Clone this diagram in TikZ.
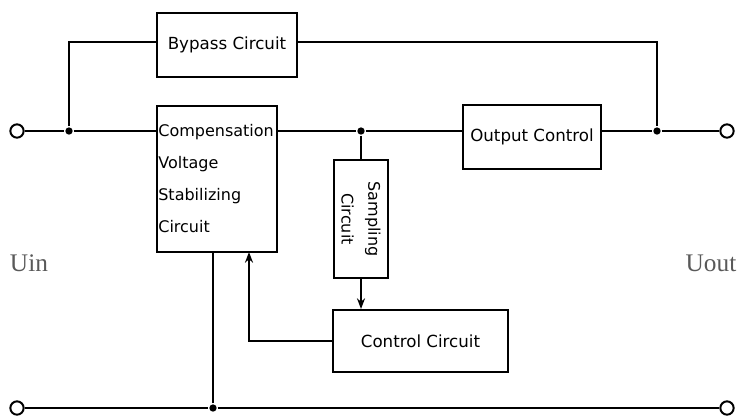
\documentclass[tikz,border=0pt]{standalone}
\usepackage{fontspec}
\setmainfont{DejaVu Sans}
\newfontfamily\labelfont{Liberation Serif}
\usetikzlibrary{arrows.meta}

\begin{document}
\begin{tikzpicture}[
  x=0.75pt, y=-0.75pt,
  line width=1.5pt,
  box/.style={draw, rectangle, inner sep=1pt, font=\fontsize{12.5}{24}\selectfont},
  term/.style={draw, circle, fill=white, minimum size=10pt, inner sep=0pt},
  dot/.style={circle, fill, minimum size=5.5pt, inner sep=0pt},
  feed/.style={-{Stealth[length=8pt, width=6pt]}}
]
\useasboundingbox (0,0) rectangle (740,419);

% blocks
\node[box, minimum width=105pt, minimum height=48pt] (bypass) at (227,45) {Bypass Circuit};
\node[box, minimum width=90pt, minimum height=109.5pt, text width=88pt, align=left,
  font=\fontsize{12}{24}\selectfont] (comp) at (217,179)
  {Compensation\\Voltage\\Stabilizing\\Circuit};
\node[box, rotate=-90, minimum width=88.5pt, minimum height=40.5pt, inner sep=0pt, align=center,
  font=\fontsize{12}{20}\selectfont] (samp) at (361,219) {Sampling\\Circuit};
\node[box, minimum width=103.5pt, minimum height=48pt] (output) at (532,137) {Output Control};
\node[box, minimum width=131pt, minimum height=46.5pt] (control) at (420.5,341) {Control Circuit};

% terminals and junctions
\node[term] (lin) at (17,131) {};
\node[term] (rin) at (727,131) {};
\node[term] (lb) at (17,408) {};
\node[term] (rb) at (727,408) {};
\node[dot] (jl) at (69,131) {};
\node[dot] (js) at (361,131) {};
\node[dot] (jr) at (657,131) {};
\node[dot] (jb) at (213,408) {};
\coordinate (fb) at (249,252);
\coordinate (top) at (0,42);

\node[font=\labelfont\fontsize{19}{19}\selectfont, text=black!65] (uin) at (29,263) {Uin};
\node[font=\labelfont\fontsize{19}{19}\selectfont, text=black!65] (uout) at (711,263) {Uout};

% wiring
\draw (lin) -- (jl) -- (jl -| comp.west);
\draw (jl) -- (jl |- top) -- (bypass.west |- top);
\draw (bypass.east |- top) -- (jr |- top) -- (jr);
\draw (jl -| comp.east) -- (js) -- (js -| output.west);
\draw (jr -| output.east) -- (jr) -- (rin);
\draw (js) -- (samp.west);
\draw[feed] (samp.east) -- (samp.east |- control.north);
\draw[feed] (control.west) -| (fb);
\draw (lb) -- (jb) -- (rb);
\draw (jb) -- (jb |- comp.south);
\end{tikzpicture}
\end{document}
